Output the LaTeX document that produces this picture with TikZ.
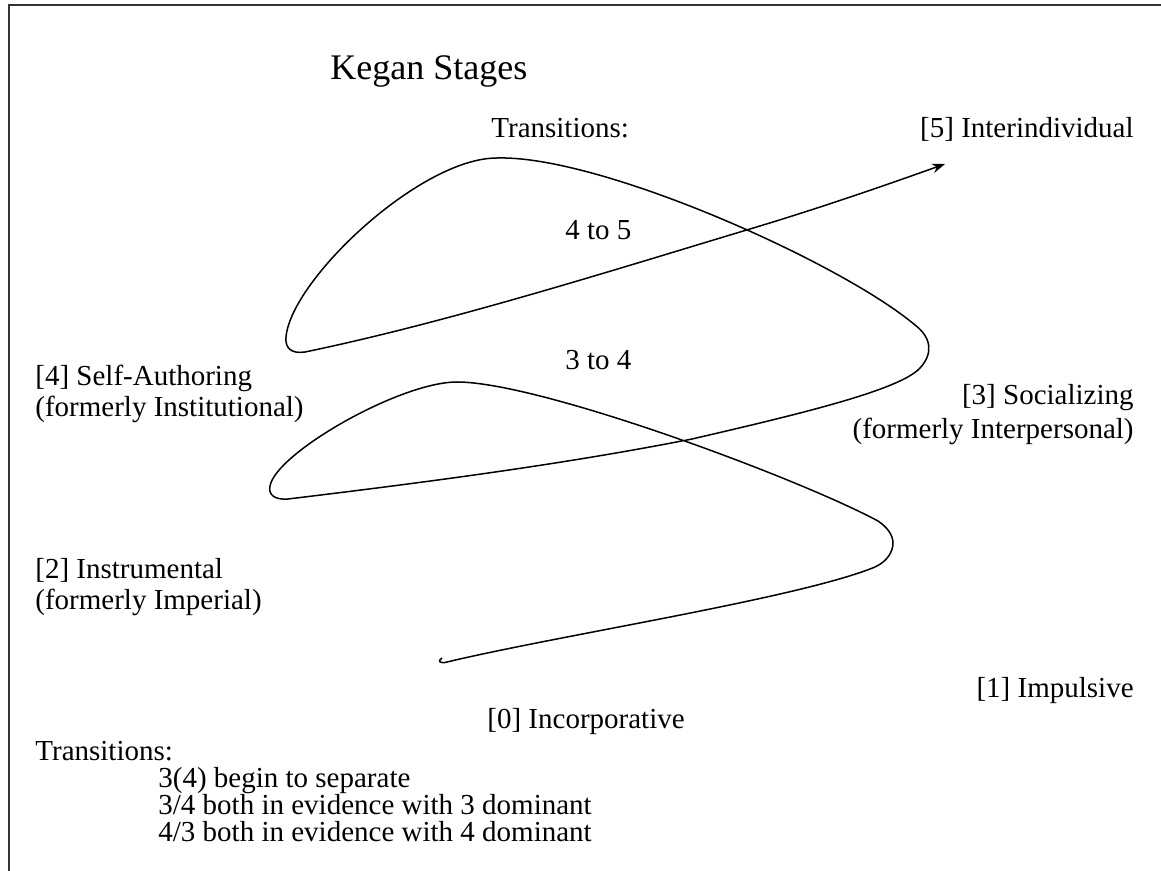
\documentclass[tikz,border=0pt]{standalone}
\usepackage{fontspec}
\setmainfont{Liberation Serif}
\usetikzlibrary{arrows.meta}
\begin{document}
\begin{tikzpicture}[x=0.5pt,y=-0.5pt,
  lbl/.style={font=\fontsize{14.5}{16}\selectfont, inner sep=0pt, text=black},
  ttl/.style={font=\fontsize{18}{20}\selectfont, inner sep=0pt, text=black},
  frame/.style={line width=0.9pt, draw=black!80},
  spiral/.style={line width=0.75pt, -{Stealth[length=6.5pt,width=4.8pt]}}]
\useasboundingbox (0,0) rectangle (1161,871);
% frame
\coordinate (ftl) at (9,5);
\coordinate (ftr) at (1161,5);
\coordinate (fbl) at (9,871);
\draw[frame] (fbl) -- (ftl) -- (ftr);
% title and labels
\node[ttl, anchor=base west] (title) at (330,80) {Kegan Stages};
\node[lbl, anchor=base west] (trtop) at (491,138) {Transitions:};
\node[lbl, anchor=base east] (s5) at (1134,138) {[5] Interindividual};
\node[lbl, anchor=base west] (t45) at (565,240) {4 to 5};
\node[lbl, anchor=base west] (s4a) at (35,386) {[4] Self-Authoring};
\node[lbl, anchor=base west] (s4b) at (35,416) {(formerly Institutional)};
\node[lbl, anchor=base west] (t34) at (565,370) {3 to 4};
\node[lbl, anchor=base east] (s3a) at (1134,405) {[3] Socializing};
\node[lbl, anchor=base east] (s3b) at (1134,438) {(formerly Interpersonal)};
\node[lbl, anchor=base west] (s2a) at (35,578) {[2] Instrumental};
\node[lbl, anchor=base west] (s2b) at (35,609) {(formerly Imperial)};
\node[lbl, anchor=base east] (s1) at (1134,697) {[1] Impulsive};
\node[lbl, anchor=base west] (s0) at (487,728) {[0] Incorporative};
\node[lbl, anchor=base west] (trbot) at (35,760) {Transitions:};
\node[lbl, anchor=base west] (tr1) at (158,787) {3(4) begin to separate};
\node[lbl, anchor=base west] (tr2) at (158,814) {3/4 both in evidence with 3 dominant};
\node[lbl, anchor=base west] (tr3) at (158,841) {4/3 both in evidence with 4 dominant};
% spiral key points
\coordinate (spstart) at (442,658);
\coordinate (sphook) at (447,662);
\coordinate (lr1) at (875,567);
\coordinate (lrx) at (893,543);
\coordinate (lr2) at (878,521);
\coordinate (lpeak) at (457,382);
\coordinate (ltip) at (270,486);
\coordinate (lbot) at (288,499);
\coordinate (xlow) at (692,439);
\coordinate (ur1) at (920,368);
\coordinate (ur2) at (915,325);
\coordinate (upeak) at (497,158);
\coordinate (utip) at (286,337);
\coordinate (ubot) at (305,352);
\coordinate (xup) at (750,229);
\coordinate (spend) at (945,164);
\draw[spiral] (spstart)
  .. controls (437,661) and (440,664) .. (sphook)
  .. controls (560,635) and (800,598) .. (lr1)
  .. controls (888,561) and (893,551) .. (lrx)
  .. controls (893,535) and (887,527) .. (lr2)
  .. controls (798,478) and (540,382) .. (lpeak)
  .. controls (400,382) and (276,453) .. (ltip)
  .. controls (268,495) and (275,500) .. (lbot)
  .. controls (420,483) and (560,465) .. (xlow)
  .. controls (800,414) and (900,390) .. (ur1)
  .. controls (933,354) and (932,338) .. (ur2)
  .. controls (840,262) and (600,155) .. (upeak)
  .. controls (420,158) and (291,280) .. (utip)
  .. controls (285,348) and (291,354) .. (ubot)
  .. controls (450,322) and (620,268) .. (xup)
  .. controls (830,205) and (900,180) .. (spend);
\end{tikzpicture}
\end{document}
